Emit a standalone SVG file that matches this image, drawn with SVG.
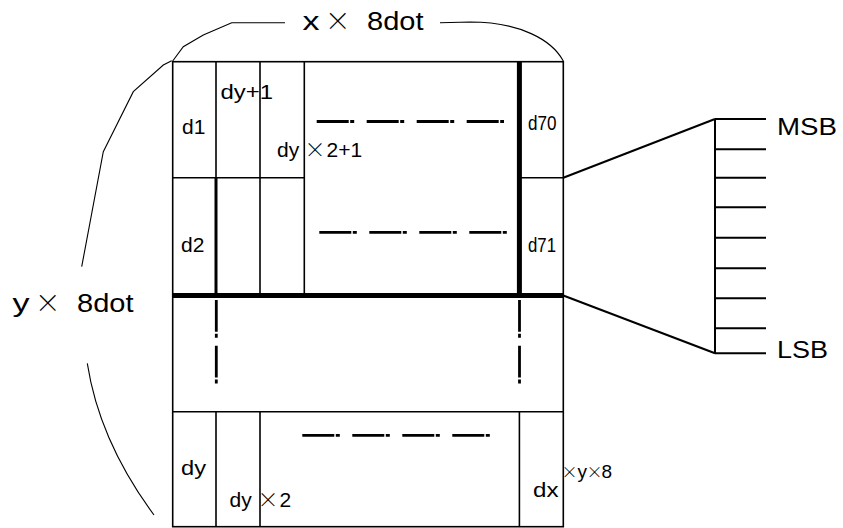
<svg xmlns="http://www.w3.org/2000/svg" width="843" height="528" viewBox="0 0 843 528">
<style>
.ln{stroke:#000;stroke-width:1.6;fill:none;stroke-linecap:butt}
.thick{stroke-width:5}
.mid{stroke-width:3}
.dd{stroke-width:2.8;stroke-dasharray:32 1.5 4 12.5}
.vdd{stroke-width:2.8;stroke-dasharray:31.7 2 4 8}
.brace{stroke:#000;stroke-width:1.1;fill:none}
.fan{stroke:#000;stroke-width:2;fill:none}
text{font-family:"Liberation Sans",Arial,sans-serif;fill:#000}
.big{font-size:25.5px}
.cell{font-size:21px}
.mul{font-family:"Noto Sans CJK JP","Liberation Sans",sans-serif;font-weight:300}
.mulb{font-size:25.5px}
.muls{font-size:21px}
.mulx{font-size:16px}
.sm{font-size:19px}
</style>
<rect width="843" height="528" fill="#fff"/>

<g id="frame">
<rect class="ln" x="172.7" y="61.7" width="390.6" height="465"/>
<line class="ln" x1="172.7" y1="177.7" x2="304.3" y2="177.7"/>
<line class="ln" x1="519.3" y1="177.7" x2="563.3" y2="177.7"/>
<line class="ln" x1="216" y1="61.7" x2="216" y2="177.7"/>
<line class="ln mid" x1="216" y1="177.7" x2="216" y2="295"/>
<line class="ln" x1="260" y1="61.7" x2="260" y2="295"/>
<line class="ln" x1="304.3" y1="61.7" x2="304.3" y2="295"/>
<line class="ln thick" x1="519.4" y1="61.7" x2="519.4" y2="295"/>
<line class="ln thick" x1="172.7" y1="295.5" x2="563.3" y2="295.5"/>
<line class="ln" x1="172.7" y1="411.7" x2="563.3" y2="411.7"/>
<line class="ln" x1="216" y1="411.7" x2="216" y2="526.7"/>
<line class="ln" x1="260" y1="411.7" x2="260" y2="526.7"/>
<line class="ln" x1="519.4" y1="411.7" x2="519.4" y2="526.7"/>
</g>

<g id="continuation">
<line class="ln dd" x1="316.7" y1="121.5" x2="504" y2="121.5"/>
<line class="ln dd" x1="319.3" y1="232.3" x2="507" y2="232.3"/>
<line class="ln dd" x1="302.3" y1="435.3" x2="490" y2="435.3"/>
<line class="ln vdd" x1="216.3" y1="300" x2="216.3" y2="384"/>
<line class="ln vdd" x1="519.5" y1="300" x2="519.5" y2="384"/>
</g>

<g id="cell-d1"><text class="cell" x="182" y="133.5">d1</text></g>
<g id="cell-dy1"><text class="cell" x="220.5" y="99" textLength="52.5" lengthAdjust="spacingAndGlyphs">dy+1</text></g>
<g id="cell-dy2p1"><text class="cell"><tspan x="277" y="157">dy</tspan><tspan class="mul muls" x="304.5" y="157">×</tspan><tspan x="326.5" y="157">2+1</tspan></text></g>
<g id="cell-d70"><text class="cell" x="528" y="130" textLength="28.5" lengthAdjust="spacingAndGlyphs">d70</text></g>
<g id="cell-d2"><text class="cell" x="181" y="251.7">d2</text></g>
<g id="cell-d71"><text class="cell" x="528" y="251.7" textLength="28" lengthAdjust="spacingAndGlyphs">d71</text></g>
<g id="cell-dy"><text class="cell" x="181" y="475" textLength="25" lengthAdjust="spacingAndGlyphs">dy</text></g>
<g id="cell-dy2"><text class="cell"><tspan x="229.5" y="507">dy</tspan><tspan class="mul muls" x="257.5" y="507">×</tspan><tspan x="279.5" y="507">2</tspan></text></g>
<g id="cell-dx"><text class="cell"><tspan x="533" y="497.3" textLength="25.5" lengthAdjust="spacingAndGlyphs">dx</tspan><tspan class="mul mulx" x="561.5" y="478">×</tspan><tspan class="sm" x="577.5" y="478">y</tspan><tspan class="mul mulx" x="586.5" y="478">×</tspan><tspan class="sm" x="601.5" y="478">8</tspan></text></g>

<g id="dim-x">
<path class="brace" d="M172.7,61 L183.3,46.7 L203.3,35 L231.7,22.7 L285,22.7"/>
<path class="brace" d="M440,22.7 L470,22 C520,22 552,40 563.3,61"/>
<text class="big"><tspan x="302.5" y="30" textLength="17" lengthAdjust="spacingAndGlyphs">x</tspan> <tspan class="mul mulb" x="325" y="30">×</tspan> <tspan x="367" y="30" textLength="56.5" lengthAdjust="spacingAndGlyphs">8dot</tspan></text>
</g>

<g id="dim-y">
<path class="brace" d="M171.7,60.7 L163.3,65 L133.3,91.7 L103.3,151.7 L81.7,266.7"/>
<path class="brace" d="M87.3,363.3 Q99.3,440.8 154,515"/>
<text class="big"><tspan x="12.5" y="311.7" textLength="17" lengthAdjust="spacingAndGlyphs">y</tspan> <tspan class="mul mulb" x="35" y="311.7">×</tspan> <tspan x="77" y="311.7" textLength="56.5" lengthAdjust="spacingAndGlyphs">8dot</tspan></text>
</g>

<g id="connectors">
<line class="fan" x1="563.3" y1="177.7" x2="715" y2="119"/>
<line class="fan" x1="563.3" y1="295.5" x2="715" y2="353.3"/>
</g>

<g id="bits">
<line class="fan" x1="715" y1="119" x2="715" y2="353.3"/>
<line class="fan" x1="715" y1="119" x2="766" y2="119"/>
<line class="fan" x1="715" y1="149.3" x2="766" y2="149.3" stroke-width="3.5"/>
<line class="fan" x1="715" y1="177.7" x2="766" y2="177.7"/>
<line class="fan" x1="715" y1="207.3" x2="766" y2="207.3"/>
<line class="fan" x1="715" y1="237.7" x2="766" y2="237.7"/>
<line class="fan" x1="715" y1="268.3" x2="766" y2="268.3"/>
<line class="fan" x1="715" y1="298.3" x2="766" y2="298.3"/>
<line class="fan" x1="715" y1="328.3" x2="766" y2="328.3"/>
<line class="fan" x1="715" y1="353.3" x2="766" y2="353.3"/>
<text x="777" y="135" style="font-size:24px" textLength="60" lengthAdjust="spacingAndGlyphs">MSB</text>
<text x="777" y="358.3" style="font-size:24px" textLength="51" lengthAdjust="spacingAndGlyphs">LSB</text>
</g>
</svg>
